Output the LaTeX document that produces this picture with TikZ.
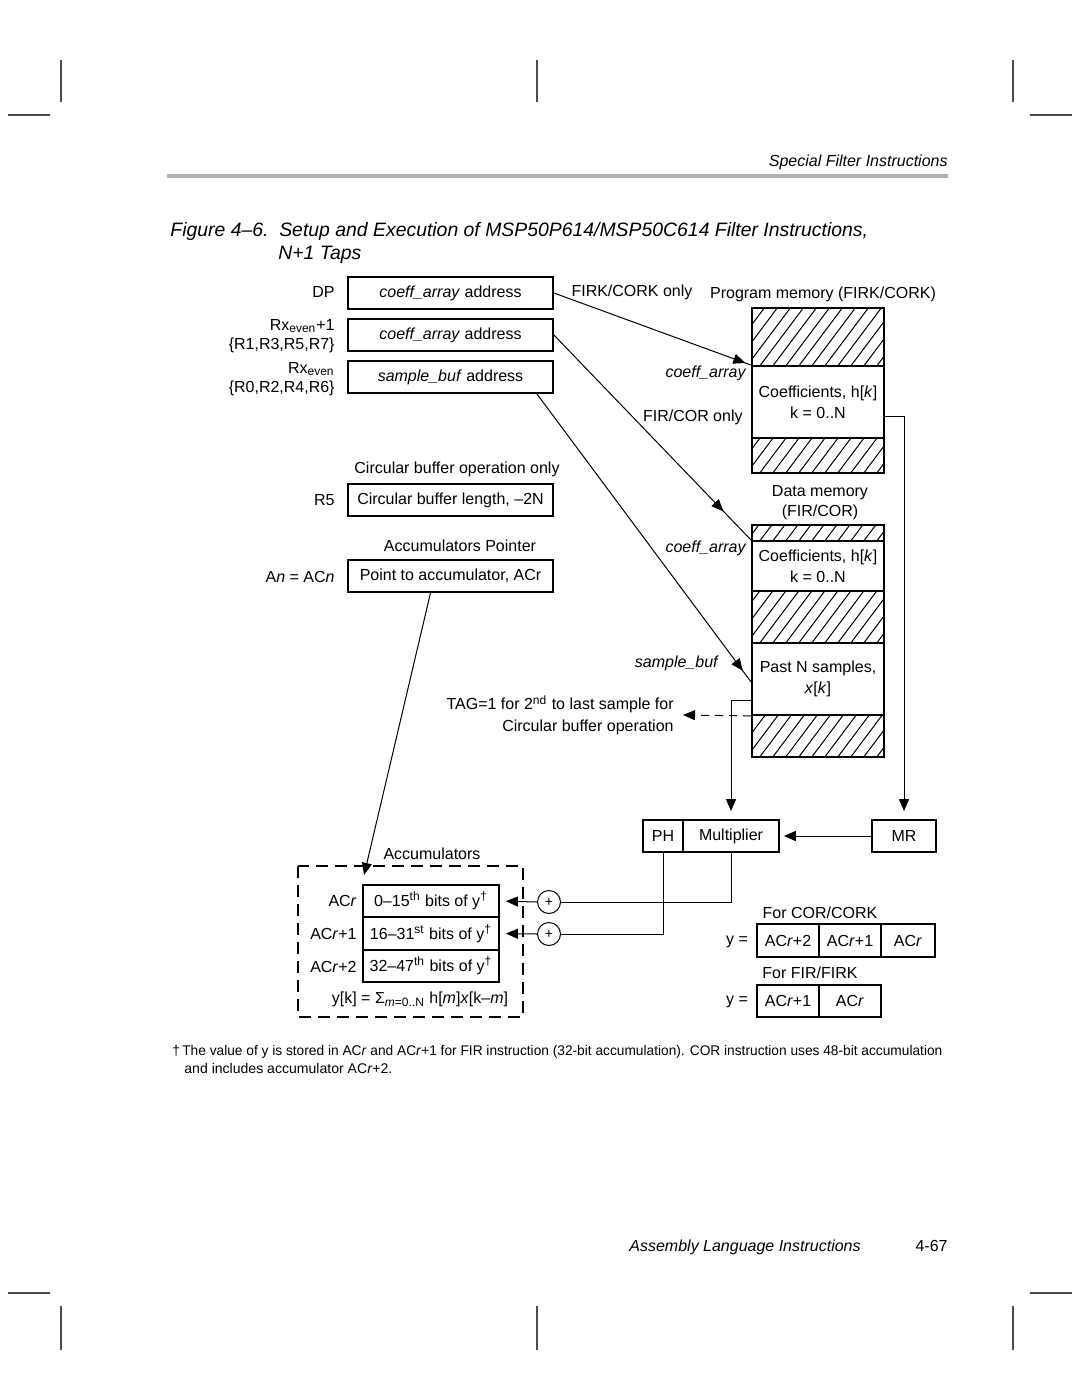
\documentclass[tikz,border=0pt]{standalone}
\usepackage{fontspec}
\setmainfont{Liberation Sans}
\usetikzlibrary{arrows.meta,decorations.markings,calc}
\newcommand\hatchit[1]{%
  \begin{scope}
    \clip (#1.south west) rectangle (#1.north east);
    \foreach \i in {0,13,...,273} {\draw[conn] ($(#1.south west)+(\i-100,40)$) -- ++(150,-200);}
  \end{scope}}
\begin{document}
\begin{tikzpicture}[x=0.5pt,y=-0.5pt,
  every node/.style={font=\fontsize{8}{9.6}\selectfont, inner sep=0pt},
  box/.style={draw, line width=0.9pt, minimum height=16pt, inner sep=0pt},
  memsec/.style={draw, line width=0.9pt, minimum width=66pt, inner sep=0pt, align=center},
  conn/.style={line width=0.5pt},
  arr/.style={-{Triangle[length=6pt,width=5pt]}},
  midarr/.style={postaction={decorate,decoration={markings,mark=at position #1 with {\arrow{Triangle[length=6pt,width=5pt]}}}}},
  crop/.style={line width=0.8pt, black!70},
  ]
\useasboundingbox (0,0) rectangle (1080,1397);

% crop marks
\foreach \x in {61,537,1013} {\draw[crop] (\x,60) -- (\x,102); \draw[crop] (\x,1306) -- (\x,1350);}
\draw[crop] (8,115) -- (50,115);
\draw[crop] (1030,115) -- (1072,115);
\draw[crop] (8,1293) -- (50,1293);
\draw[crop] (1030,1293) -- (1072,1293);

% header
\node[anchor=base east, font=\fontsize{8}{10}\selectfont\itshape] (hdr) at (948,166) {Special Filter Instructions};
\draw[line width=2pt, black!30] (167,176) -- (948,176);
\node[anchor=base west, font=\fontsize{9.7}{12}\selectfont\itshape] (t1) at (170,236) {Figure 4–6.\ \ Setup and Execution of MSP50P614/MSP50C614 Filter Instructions,};
\node[anchor=base west, font=\fontsize{9.7}{12}\selectfont\itshape] (t2) at (278,259) {N+1 Taps};

% registers
\node[box, minimum width=102.5pt] (dp) at (450.5,293) {\textit{coeff\_array} address};
\node[box, minimum width=102.5pt] (rx1) at (450.5,335) {\textit{coeff\_array} address};
\node[box, minimum width=102.5pt] (rx0) at (450.5,377) {\textit{sample\_buf} address};
\node[anchor=east] (ldp) at (335,292) {DP};
\node[anchor=east, align=right] (lrx1) at (335,336) {Rx\textsubscript{even}+1\\\{R1,R3,R5,R7\}};
\node[anchor=east, align=right] (lrx0) at (335,379) {Rx\textsubscript{even}\\\{R0,R2,R4,R6\}};

\node (firk) at (632,292) {FIRK/CORK only};
\node (pmlab) at (823,294) {Program memory (FIRK/CORK)};

% program memory
\node[memsec, minimum height=29pt] (pmA) at (818,337) {};
\node[memsec, minimum height=36pt] (pmC) at (818,402) {Coefficients, h[\textit{k}]\\[1pt]k = 0..N};
\node[memsec, minimum height=17.5pt] (pmB) at (818,455.5) {};
\hatchit{pmA}
\hatchit{pmB}
\node[anchor=east, font=\fontsize{8}{9.6}\selectfont\itshape] (ca1) at (746,373) {coeff\_array};
\node[anchor=east] (fironly) at (743,417) {FIR/COR only};

% data memory
\node[align=center] (dmlab) at (820,503) {Data memory\\[0.5pt](FIR/COR)};
\node[memsec, minimum height=8pt] (dmA) at (818,533) {};
\node[memsec, minimum height=25pt] (dmC) at (818,566) {Coefficients, h[\textit{k}]\\[1pt]k = 0..N};
\node[memsec, minimum height=26pt] (dmD) at (818,617) {};
\node[memsec, minimum height=36pt] (dmS) at (818,679) {Past N samples,\\[1pt]\textit{x}[\textit{k}]};
\node[memsec, minimum height=21pt] (dmE) at (818,736) {};
\hatchit{dmA}
\hatchit{dmD}
\hatchit{dmE}
\node[anchor=east, font=\fontsize{8}{9.6}\selectfont\itshape] (ca2) at (746,548) {coeff\_array};
\node[anchor=east, font=\fontsize{8}{9.6}\selectfont\itshape] (sb) at (718,663) {sample\_buf};

% circular buffer and pointer
\node (cbop) at (457,469) {Circular buffer operation only};
\node[box, minimum width=102.5pt] (r5) at (450.5,500) {Circular buffer length, –2N};
\node[anchor=east] (lr5) at (335,500) {R5};
\node (accp) at (460,546) {Accumulators Pointer};
\node[box, minimum width=102.5pt] (ptr) at (450.5,576) {Point to accumulator, ACr};
\node[anchor=east] (lan) at (335,577) {A\textit{n} = AC\textit{n}};

\node[anchor=east, align=right] (tag) at (674,715) {TAG=1 for 2\textsuperscript{nd} to last sample for\\[1pt]Circular buffer operation};
\coordinate (tagtip) at (683,715);

% multiplier
\node[box, minimum width=20pt] (ph) at (663,836) {PH};
\node[box, minimum width=48pt] (mult) at (731,836) {Multiplier};
\node[box, minimum width=32pt] (mr) at (904,836) {MR};

% accumulators
\node (acclab) at (432,854) {Accumulators};
\draw[line width=0.8pt, dash pattern=on 6pt off 3.5pt] (298,866) rectangle (523,1017);
\node[box, minimum width=68pt, minimum height=16.25pt] (acc0) at (431,901) {0–15\textsuperscript{th} bits of y\textsuperscript{†}};
\node[box, minimum width=68pt, minimum height=16.25pt] (acc1) at (431,933.5) {16–31\textsuperscript{st} bits of y\textsuperscript{†}};
\node[box, minimum width=68pt, minimum height=16.25pt] (acc2) at (431,966) {32–47\textsuperscript{th} bits of y\textsuperscript{†}};
\node[anchor=east] (la0) at (357,901) {AC\textit{r}};
\node[anchor=east] (la1) at (357,934) {AC\textit{r}+1};
\node[anchor=east] (la2) at (357,967) {AC\textit{r}+2};
\node (formula) at (420,999) {y[k] = Σ\textsubscript{\textit{m}=0..N} h[\textit{m}]\textit{x}[k–\textit{m}]};

\node[draw, circle, line width=0.5pt, minimum size=11.5pt, font=\fontsize{7}{8}\selectfont] (add1) at (549,902) {+};
\node[draw, circle, line width=0.5pt, minimum size=11.5pt, font=\fontsize{7}{8}\selectfont] (add2) at (549,934) {+};

% results
\node (forcor) at (820,913) {For COR/CORK};
\node[box, minimum width=31pt, minimum height=16.5pt] (cor1) at (788,940.5) {AC\textit{r}+2};
\node[box, minimum width=31pt, minimum height=16.5pt] (cor2) at (850,940.5) {AC\textit{r}+1};
\node[box, minimum width=27pt, minimum height=16.5pt] (cor3) at (908,940.5) {AC\textit{r}};
\node (ycor) at (737,942) {y =};
\node (forfir) at (810,973) {For FIR/FIRK};
\node[box, minimum width=31pt, minimum height=16pt] (fir1) at (788,1001) {AC\textit{r}+1};
\node[box, minimum width=31pt, minimum height=16pt] (fir2) at (850,1001) {AC\textit{r}};
\node (yfir) at (737,1002) {y =};

% connectors
\draw[conn, midarr=-3pt] (dp.east) -- (pmC.north west);
\draw[conn, midarr=-20pt] (rx1.east) -- (dmC.north west);
\draw[conn, midarr=-7pt] ($(rx0.south east)+(-17,0)$) -- ($(dmS.west)+(0,3)$);
\draw[conn, arr] ($(ptr.south)+(-20,0)$) -- ($(acc0.north west)+(2,-9)$);
\draw[conn, arr, shorten >=4pt] ($(pmC.east)+(0,14)$) -| (mr.north);
\draw[conn, arr, shorten >=4pt] ($(dmS.west)+(0,21)$) -| (mult.north);
\draw[conn, arr, dash pattern=on 4pt off 3pt] (dmS.south west) -- (tagtip);
\draw[conn, arr, shorten >=2pt] (mr.west) -- (mult.east);
\draw[conn] (mult.south) |- (add1.east);
\draw[conn] (ph.south) |- (add2.east);
\draw[conn, arr, shorten >=3pt] (add1.west) -- (acc0.east);
\draw[conn, arr, shorten >=3pt] (add2.west) -- (acc1.east);

% footnote
\node[anchor=base west, font=\fontsize{7}{8}\selectfont] (fn1) at (172,1055) {\resizebox{385pt}{\height}{†\,The value of y is stored in AC\textit{r} and AC\textit{r}+1 for FIR instruction (32-bit accumulation). COR instruction uses 48-bit accumulation}};
\node[anchor=base west, font=\fontsize{7}{8}\selectfont] (fn2) at (184,1073) {\resizebox{104pt}{\height}{and includes accumulator AC\textit{r}+2.}};

% footer
\node[anchor=base west, font=\fontsize{8}{10}\selectfont\itshape] (ftr) at (629,1251) {Assembly Language Instructions};
\node[anchor=base east] (pg) at (948,1251) {4-67};
\end{tikzpicture}
\end{document}
